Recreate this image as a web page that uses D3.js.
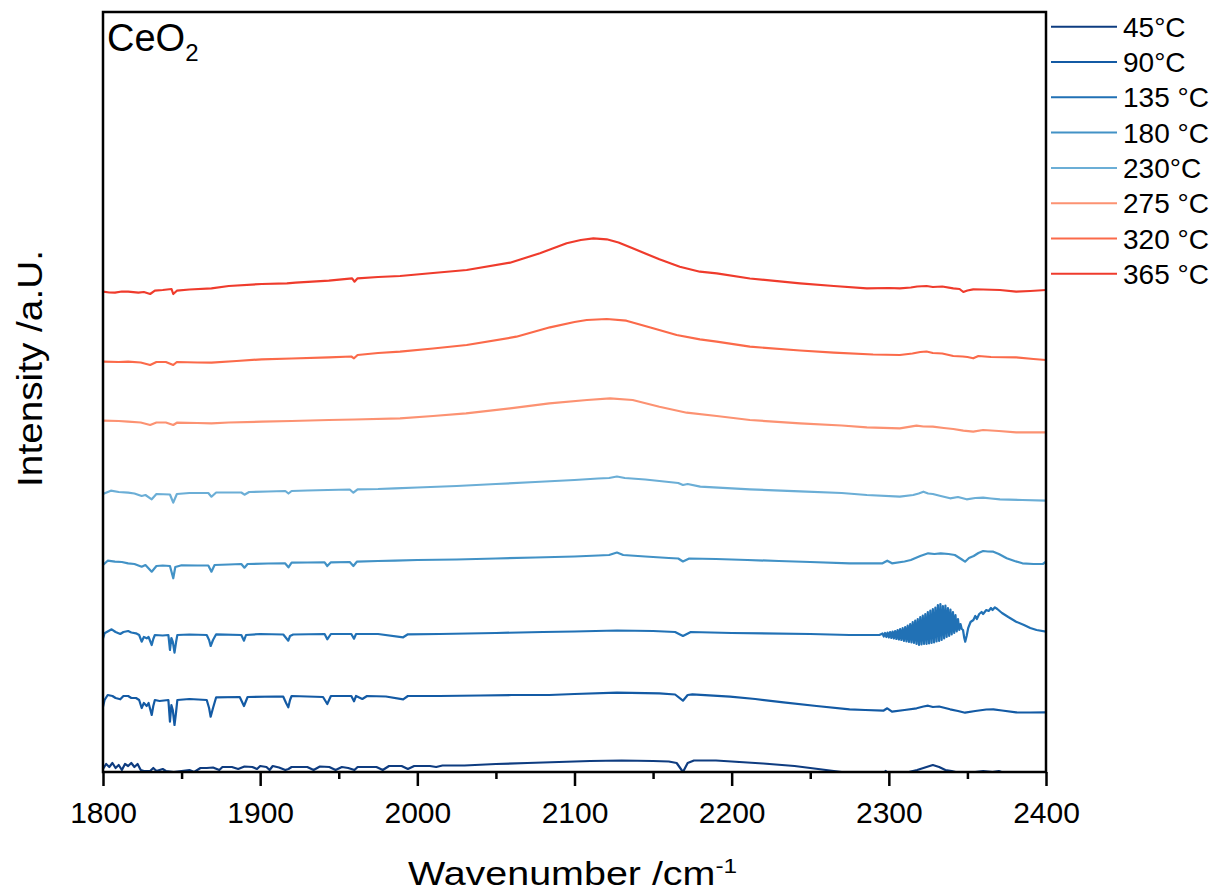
<!DOCTYPE html>
<html>
<head>
<meta charset="utf-8">
<script src="https://cdn.jsdelivr.net/npm/d3@7"></script>
<style>
  html, body { margin: 0; padding: 0; background: #fff; }
  svg { display: block; font-family: "Liberation Sans", Arial, sans-serif; }
</style>
</head>
<body>
<svg id="chart" width="1215" height="894"></svg>
<script>
// DRIFTS spectra of CeO2, stacked by temperature: [wavenumber cm^-1, intensity a.u.]
const temperatures = ["45°C", "90°C", "135 °C", "180 °C", "230°C", "275 °C", "320 °C", "365 °C"];
const xTicks = [1800, 1900, 2000, 2100, 2200, 2300, 2400];
const xMinorTicks = [1850, 1950, 2050, 2150, 2250, 2350];

const s45 = [
  [1800,0.30],[1802,0.80],[1804,0.50],[1806,0.90],[1808,0.40],[1810,0.70],[1812,0.20],[1814,0.80],
  [1816,0.60],[1818,0.90],[1820,0.50],[1822,0.80],[1824,0.20],[1826,0.10],[1830,0.10],[1832,0.40],
  [1834,0.10],[1838,0.30],[1840,0.10],[1845,0.00],[1850,0.10],[1855,0.20],[1858,0.00],[1862,0.40],
  [1866,0.40],[1870,0.45],[1874,0.20],[1876,0.50],[1882,0.50],[1886,0.30],[1890,0.55],[1895,0.50],
  [1898,0.30],[1900,0.60],[1904,0.50],[1906,0.20],[1908,0.60],[1912,0.45],[1916,0.20],[1918,0.30],
  [1920,0.50],[1930,0.50],[1934,0.20],[1938,0.55],[1944,0.50],[1948,0.20],[1952,0.50],[1956,0.40],
  [1960,0.20],[1962,0.50],[1974,0.50],[1978,0.20],[1982,0.60],[1990,0.60],[1994,0.30],[1998,0.60],
  [2008,0.60],[2012,0.50],[2016,0.65],[2030,0.65],[2050,0.80],[2070,0.90],[2090,1.00],[2110,1.10],
  [2130,1.15],[2150,1.10],[2160,1.05],[2165,0.90],[2169,0.00],[2172,0.90],[2176,1.15],[2190,1.15],
  [2200,1.05],[2220,0.85],[2240,0.60],[2250,0.40],[2260,0.20],[2270,0.00],[2280,-0.15],[2296,-0.20],
  [2298,0.10],[2300,-0.20],[2310,-0.10],[2318,0.20],[2324,0.50],[2328,0.70],[2332,0.50],[2336,0.20],
  [2340,0.10],[2345,-0.10],[2355,0.00],[2360,0.10],[2366,0.00],[2370,0.10],[2375,-0.20],[2400,-0.30]
];

const s90 = [
  [1800,6.53],[1801,7.20],[1803,7.70],[1806,7.60],[1808,7.40],[1811,7.27],[1813,7.60],[1816,7.60],
  [1818,7.40],[1821,7.40],[1823,7.20],[1824.6,6.40],[1826,6.90],[1827.8,6.60],[1829,6.90],[1831,5.70],
  [1832,6.60],[1833,7.20],[1836,7.10],[1841.6,7.20],[1842.6,5.03],[1843.5,6.70],[1844.4,6.20],[1845.5,4.70],
  [1846.5,6.00],[1847.3,7.20],[1855,7.30],[1866,7.20],[1867.5,6.40],[1868.5,5.53],[1870,6.40],[1872,7.47],
  [1887,7.50],[1889.7,6.60],[1892,7.50],[1910,7.55],[1914.7,7.53],[1916.5,6.90],[1917.9,6.47],[1919,7.20],
  [1920,7.60],[1940,7.50],[1942.7,6.80],[1945,7.60],[1958,7.60],[1959.7,7.07],[1961,7.60],[1965,7.30],
  [1968,7.60],[1980,7.55],[1991,7.27],[1994,7.60],[2014,7.60],[2040,7.65],[2060,7.70],[2084,7.70],
  [2100,7.80],[2127,7.93],[2154,7.87],[2164,7.75],[2169,7.13],[2172,7.70],[2175,7.77],[2199,7.53],
  [2215,7.30],[2233,6.97],[2254,6.60],[2275,6.27],[2285,6.20],[2296.5,6.13],[2299,6.37],[2302,6.03],
  [2310,6.20],[2317.7,6.37],[2322,6.55],[2325,6.63],[2328,6.50],[2332,6.55],[2339,6.27],[2344,6.10],
  [2348.5,5.93],[2355,6.10],[2362,6.25],[2366.5,6.27],[2372,6.15],[2381,5.97],[2390,5.95],[2400,5.97]
];

const s135 = [
  [1800,13.37],[1801,13.87],[1805.5,14.27],[1808,14.00],[1811,13.80],[1813,14.00],[1816,14.10],[1818,13.95],
  [1821,13.87],[1823,13.70],[1824.6,13.03],[1826,13.50],[1827.8,13.37],[1829,13.50],[1831,12.70],[1832,13.30],
  [1833,13.70],[1838,13.65],[1841.6,13.70],[1842.6,12.20],[1843.5,13.40],[1844.4,13.03],[1845.5,11.93],[1846.5,13.00],
  [1847.3,13.70],[1855,13.75],[1866,13.70],[1867.5,13.20],[1868.5,12.60],[1870,13.20],[1872,13.77],[1888,13.70],
  [1889.7,13.13],[1891,13.70],[1900,13.80],[1914.7,13.75],[1916.5,13.40],[1917.9,13.13],[1919,13.60],[1921,13.75],
  [1941,13.80],[1942.7,13.27],[1945,13.80],[1958,13.80],[1959.7,13.33],[1961,13.80],[1975,13.80],[1991,13.47],
  [1994,13.77],[2014,13.80],[2050,13.90],[2080,14.00],[2100,14.05],[2127,14.15],[2150,14.10],[2164,14.00],
  [2169,13.60],[2174,14.00],[2200,13.90],[2250,13.80],[2275,13.70],[2294,13.70],
  // gas-phase CO2 rotational band
  [2296.0,13.85],[2296.8,13.55],[2297.6,13.90],[2298.4,13.50],[2299.2,13.95],[2300.0,13.45],[2300.8,14.00],[2301.6,13.40],
  [2302.4,14.05],[2303.2,13.35],[2304.0,14.10],[2304.8,13.30],[2305.6,14.20],[2306.4,13.25],[2307.2,14.30],[2308.0,13.20],
  [2308.8,14.40],[2309.6,13.10],[2310.4,14.50],[2311.2,13.05],[2312.0,14.65],[2312.8,13.00],[2313.6,14.80],[2314.4,12.95],
  [2315.2,15.00],[2316.0,12.90],[2316.8,15.15],[2317.6,12.80],[2318.4,15.30],[2319.2,12.70],[2320.0,15.50],[2320.8,12.75],
  [2321.6,15.65],[2322.4,12.80],[2323.2,15.80],[2324.0,12.80],[2324.8,16.00],[2325.6,12.85],[2326.4,16.15],[2327.2,12.90],
  [2328.0,16.30],[2328.8,12.95],[2329.6,16.45],[2330.4,13.05],[2331.2,16.70],[2332.0,13.10],[2332.8,16.80],[2333.6,13.20],
  [2334.4,16.60],[2335.2,13.35],[2336.0,16.65],[2336.8,13.50],[2337.6,16.40],[2338.4,13.60],[2339.2,16.25],[2340.0,13.75],
  [2340.8,16.00],[2341.6,13.90],[2342.4,15.70],[2343.2,14.05],[2344.0,15.30],[2344.8,14.20],[2345.6,14.80],[2346.4,14.30],
  [2347.2,14.20],[2348.0,13.40],[2348.6,13.03],[2349.5,13.60],[2350.5,14.40],[2352,15.00],[2353.8,15.20],[2355,15.60],
  [2356,15.30],[2357.5,15.80],[2359,16.00],[2360,15.80],[2362,16.20],[2363.5,16.10],[2365,16.40],[2366,16.20],
  [2367.5,16.47],[2369,16.30],[2372,15.90],[2376,15.50],[2381,15.03],[2386,14.70],[2390,14.40],[2394,14.20],[2400,14.03]
];

const s180 = [
  [1800,20.70],[1803,21.13],[1807.6,21.03],[1812,21.00],[1816,20.87],[1820,20.80],[1824.6,20.53],[1827,20.70],
  [1831,20.03],[1834,20.60],[1838,20.65],[1842.6,20.60],[1844.7,19.37],[1846,20.50],[1850,20.67],[1860,20.65],
  [1867,20.65],[1869,20.03],[1871,20.70],[1880,20.75],[1888,20.80],[1890,20.43],[1892,20.80],[1905,20.85],
  [1915.8,20.87],[1918,20.47],[1920,20.93],[1930,20.95],[1941,20.97],[1942.7,20.60],[1945,20.97],[1957,21.00],
  [1959.3,20.60],[1961.5,21.03],[1975,21.10],[1985.8,21.13],[2000,21.20],[2025,21.25],[2050,21.35],[2075,21.45],
  [2100,21.55],[2115,21.65],[2122,21.70],[2127,21.95],[2131,21.70],[2145,21.55],[2160,21.40],[2166,21.35],
  [2169,21.05],[2173,21.35],[2190,21.30],[2210,21.20],[2230,21.10],[2250,21.00],[2275,20.87],[2296,20.87],
  [2299,21.13],[2302,20.87],[2310,21.05],[2314,21.20],[2320,21.60],[2325,21.87],[2329,21.80],[2333,21.87],
  [2338,21.80],[2342,21.70],[2346,21.30],[2348.5,21.03],[2351,21.40],[2354,21.60],[2357,21.90],[2360,22.10],
  [2363,22.05],[2366.5,22.03],[2370,21.80],[2375,21.37],[2380,21.10],[2385,20.87],[2392,20.80],[2398,20.80],[2400,21.03]
];

const s230 = [
  [1800,27.80],[1805,28.13],[1810,28.00],[1816,27.93],[1820,27.85],[1824.6,27.60],[1827,27.70],[1831,27.27],
  [1834,27.80],[1842.6,27.75],[1844.7,26.93],[1847,27.80],[1855,27.90],[1867,27.90],[1869,27.53],[1872,27.95],
  [1888,27.95],[1890,27.73],[1893,28.00],[1905,28.05],[1916,28.10],[1918,27.85],[1920,28.10],[1930,28.15],
  [1943,28.20],[1957,28.25],[1959.3,27.93],[1962,28.27],[1975,28.30],[1985.8,28.37],[2000,28.45],[2025,28.60],
  [2050,28.80],[2075,29.00],[2100,29.20],[2115,29.35],[2122,29.40],[2127,29.55],[2132,29.40],[2145,29.25],
  [2160,29.00],[2166,28.90],[2169,28.70],[2172,28.80],[2180,28.53],[2211.6,28.27],[2243.5,28.07],[2270,27.90],
  [2286,27.70],[2307,27.53],[2315.5,27.70],[2319,27.85],[2322,28.03],[2325,27.85],[2328,27.80],[2333,27.60],
  [2339,27.37],[2344,27.50],[2349.5,27.27],[2355,27.40],[2360,27.43],[2365,27.35],[2370.7,27.27],[2385,27.20],[2400,27.13]
];

const s275 = [
  [1800,35.13],[1810,35.10],[1816,35.03],[1824,34.95],[1830,34.70],[1834,34.95],[1840,34.95],[1844.7,34.70],
  [1847,34.93],[1860,34.90],[1869,34.87],[1880,34.95],[1901,35.03],[1920,35.10],[1943.7,35.20],[1960,35.25],
  [1989,35.37],[2010,35.60],[2031,35.87],[2059,36.37],[2084,36.87],[2108,37.20],[2122.6,37.37],[2137,37.20],
  [2154,36.53],[2171.4,35.93],[2190.5,35.60],[2211.6,35.20],[2243.5,34.87],[2270,34.65],[2286,34.47],[2307,34.37],
  [2317.6,34.63],[2322,34.55],[2328,34.53],[2335,34.40],[2341,34.30],[2347.4,34.13],[2353.7,34.03],[2360,34.20],
  [2370,34.10],[2381,33.97],[2400,33.97]
];

const s320 = [
  [1800,41.03],[1810,41.00],[1816,41.03],[1824,40.95],[1830,40.70],[1834,41.00],[1840,41.00],[1844.7,40.70],
  [1847,41.00],[1860,40.95],[1869,40.93],[1885,41.10],[1901,41.27],[1920,41.35],[1943.7,41.47],[1958,41.55],
  [1959.7,41.37],[1962,41.70],[1975,41.90],[1989,42.03],[2010,42.35],[2031.4,42.70],[2063,43.53],[2084.4,44.47],
  [2100,45.00],[2107.8,45.20],[2120.5,45.30],[2133,45.13],[2150,44.37],[2165,43.70],[2179.8,43.27],[2190.5,43.03],
  [2211.6,42.53],[2243.5,42.15],[2265,41.93],[2290,41.75],[2307,41.70],[2315,41.85],[2320,42.00],[2324,42.05],
  [2328,41.90],[2334,41.85],[2341,41.60],[2347,41.55],[2350,41.50],[2353.7,41.37],[2357,41.60],[2365,41.50],
  [2381,41.47],[2392,41.30],[2400,41.20]
];

const s365 = [
  [1800,48.03],[1804,47.95],[1807.6,47.93],[1812,48.05],[1816,48.03],[1822.5,47.93],[1826,48.00],[1830,47.80],
  [1833,48.13],[1838,48.20],[1843.6,48.30],[1844.7,47.80],[1847,48.13],[1855,48.25],[1869,48.37],[1880,48.60],
  [1901,48.80],[1917,48.87],[1922.5,48.93],[1943.7,49.13],[1958.5,49.37],[1960,49.03],[1962,49.37],[1975,49.50],
  [1989,49.60],[2010,49.90],[2031.4,50.20],[2059,50.93],[2078,51.87],[2095,52.87],[2104,53.20],[2112,53.37],
  [2120.5,53.27],[2128,52.95],[2137,52.37],[2154,51.27],[2167,50.53],[2179.8,50.03],[2190.5,49.87],[2211.6,49.35],
  [2243.5,48.87],[2265,48.60],[2286,48.37],[2300,48.40],[2307,48.37],[2314,48.45],[2318,48.55],[2324,48.60],
  [2328,48.50],[2334,48.55],[2341,48.37],[2345,48.30],[2347.4,48.00],[2350,48.15],[2353.7,48.27],[2360,48.25],
  [2370.7,48.20],[2381,48.03],[2390,48.10],[2400,48.20]
];

const seriesData = [s45, s90, s135, s180, s230, s275, s320, s365];
const colors = ["#0e3c80", "#135aa4", "#2171b5", "#4292c6", "#6baed6", "#fc9272", "#fb6a4a", "#ef3b2c"];

const svg = d3.select("#chart");
const plot = { left: 103, right: 1046, top: 12, bottom: 772 };

const x = d3.scaleLinear().domain([1800, 2400]).range([plot.left, plot.right]);
const y = d3.scaleLinear().domain([0, 76]).range([plot.bottom, plot.top]);

svg.append("defs").append("clipPath").attr("id", "plot-clip")
  .append("rect")
  .attr("x", plot.left).attr("y", plot.top)
  .attr("width", plot.right - plot.left).attr("height", plot.bottom - plot.top);

const line = d3.line().x(d => x(d[0])).y(d => y(d[1]));

// spectra
const traces = svg.append("g").attr("clip-path", "url(#plot-clip)");
seriesData.forEach((s, i) => {
  traces.append("path")
    .datum(s)
    .attr("d", line)
    .attr("fill", "none")
    .attr("stroke", colors[i])
    .attr("stroke-width", 2.2)
    .attr("stroke-linejoin", "round");
});

// x axis: major and minor ticks
const axisMajor = d3.axisBottom(x).tickValues(xTicks).tickSize(14).tickPadding(16).tickFormat(d3.format("d"));
const gx = svg.append("g").attr("transform", `translate(0,${plot.bottom})`).call(axisMajor);
gx.select(".domain").remove();
gx.selectAll(".tick line").attr("stroke", "#000").attr("stroke-width", 2.5);
gx.selectAll(".tick text").attr("font-size", 30).attr("fill", "#000")
  .attr("font-family", "'Liberation Sans', Arial, sans-serif");

const axisMinor = d3.axisBottom(x).tickValues(xMinorTicks).tickSize(7).tickFormat("");
const gm = svg.append("g").attr("transform", `translate(0,${plot.bottom})`).call(axisMinor);
gm.select(".domain").remove();
gm.selectAll(".tick line").attr("stroke", "#000").attr("stroke-width", 2.5);

// frame
svg.append("rect")
  .attr("x", plot.left).attr("y", plot.top)
  .attr("width", plot.right - plot.left).attr("height", plot.bottom - plot.top)
  .attr("fill", "none").attr("stroke", "#000").attr("stroke-width", 2.5);

// axis titles
const xt = svg.append("text")
  .attr("transform", `translate(${(408 + 737) / 2},885) scale(1.16,1)`)
  .attr("text-anchor", "middle").attr("font-size", 34).attr("fill", "#000");
xt.append("tspan").text("Wavenumber /cm");
xt.append("tspan").attr("font-size", 21).attr("dy", -12).text("-1");

svg.append("text")
  .attr("transform", "translate(42,368.5) rotate(-90) scale(1.107,1)")
  .attr("text-anchor", "middle").attr("font-size", 35).attr("fill", "#000")
  .text("Intensity /a.U.");

// sample label
const title = svg.append("text").attr("x", 107).attr("y", 51).attr("font-size", 38).attr("fill", "#000");
title.append("tspan").text("CeO");
title.append("tspan").attr("font-size", 24).attr("dy", 10).text("2");

// legend
const legend = svg.append("g");
temperatures.forEach((t, i) => {
  const ly = 26.7 + i * 35.3;
  legend.append("line")
    .attr("x1", 1051).attr("x2", 1117).attr("y1", ly).attr("y2", ly)
    .attr("stroke", colors[i]).attr("stroke-width", 2);
  legend.append("text")
    .attr("x", 1123).attr("y", ly + 10)
    .attr("font-size", 28).attr("fill", "#000")
    .text(t);
});
</script>
</body>
</html>
